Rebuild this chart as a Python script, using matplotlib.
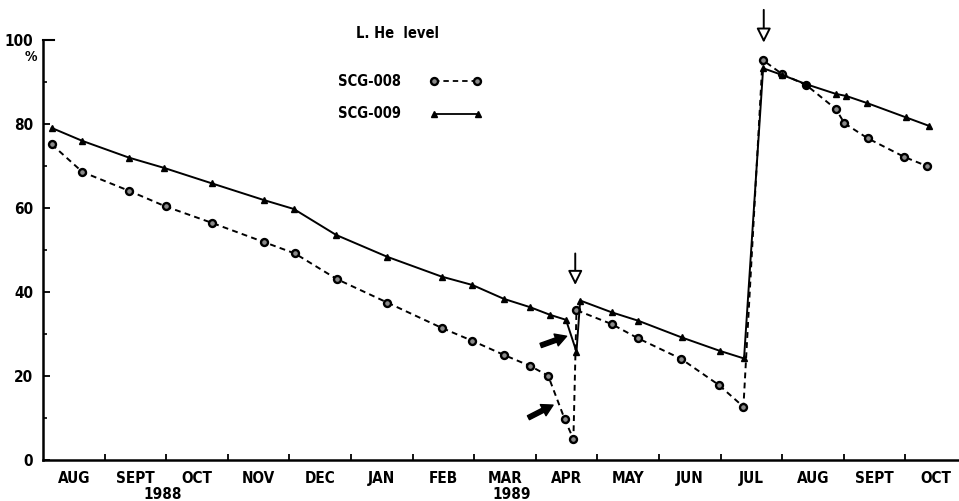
import matplotlib
matplotlib.use("Agg")
import matplotlib.pyplot as plt
from matplotlib import font_manager
from matplotlib.lines import Line2D

# x = months since 1 Aug 1988, y = liquid helium level (%)
months_008 = [0.14, 0.64, 1.40, 1.99, 2.74, 3.59, 4.09, 4.77, 5.59, 6.47,
              6.97, 7.49, 7.91, 8.20, 8.47, 8.61, 8.66, 9.23, 9.66, 10.36,
              10.97, 11.37, 11.68, 12.00, 12.39, 12.87, 13.01, 13.39, 13.98, 14.35]
level_008 = [75.1, 68.5, 64.0, 60.3, 56.4, 51.8, 49.1, 43.0, 37.4, 31.4,
             28.3, 24.9, 22.3, 20.0, 9.6, 4.9, 35.6, 32.3, 28.9, 24.0,
             17.8, 12.6, 95.2, 91.8, 89.2, 83.5, 80.1, 76.5, 72.1, 69.9]

months_009 = [0.14, 0.64, 1.40, 1.96, 2.74, 3.59, 4.07, 4.76, 5.59, 6.47,
              6.97, 7.48, 7.91, 8.23, 8.49, 8.66, 8.72, 9.23, 9.66, 10.37,
              10.99, 11.38, 11.69, 12.00, 12.39, 12.87, 13.04, 13.38, 14.01, 14.38]
level_009 = [79.0, 75.9, 71.9, 69.5, 65.8, 61.8, 59.7, 53.5, 48.3, 43.6,
             41.6, 38.3, 36.3, 34.5, 33.3, 25.7, 37.9, 35.1, 33.1, 29.1,
             25.9, 24.1, 93.2, 91.6, 89.4, 87.1, 86.6, 84.9, 81.5, 79.5]

month_labels = ["AUG", "SEPT", "OCT", "NOV", "DEC", "JAN", "FEB", "MAR",
                "APR", "MAY", "JUN", "JUL", "AUG", "SEPT", "OCT"]
year_labels = ["1988", "1989"]
year_pos = [1.95, 7.61]
y_major = [0, 20, 40, 60, 80, 100]
y_minor = [10, 30, 50, 70, 90]

names = {f.name for f in font_manager.fontManager.ttflist}
FONT = "Liberation Sans Narrow" if "Liberation Sans Narrow" in names else "DejaVu Sans"
plt.rcParams["font.family"] = [FONT, "DejaVu Sans"]
plt.rcParams["font.weight"] = "bold"
plt.rcParams["font.stretch"] = "condensed"

fig = plt.figure(figsize=(9.59, 5.01), dpi=100)
ax = fig.add_axes([43 / 959, 41.3 / 501, 914.8 / 959, 420 / 501])

dash = (0, (3, 2.2))
circle = dict(marker="o", ms=5, mfc="#8a8a8a", mec="black", mew=1.7)
tri = dict(marker="^", ms=4.6, mfc="black", mec="black")
ax.plot(months_008, level_008, color="black", lw=1.4, ls=dash, **circle)
ax.plot(months_009, level_009, color="black", lw=1.4, **tri)

ax.set_xlim(0, 14.85)
ax.set_ylim(0, 100)
for s in ["top", "right"]:
    ax.spines[s].set_visible(False)
for s in ["left", "bottom"]:
    ax.spines[s].set_linewidth(1.8)

ax.set_yticks(y_major)
ax.set_yticklabels([str(v) for v in y_major])
ax.set_yticks(y_minor, minor=True)
ax.tick_params(axis="y", which="major", direction="in", length=5, width=1.3,
               labelsize=11, pad=7)
ax.tick_params(axis="y", which="minor", direction="in", length=3, width=1.2)
ax.axhline(100, xmin=0, xmax=11 / 915, color="black", lw=1.5, clip_on=False)

ax.set_xticks(range(1, 15))
ax.set_xticklabels([])
ax.set_xticks([i + 0.5 for i in range(15)], minor=True)
ax.set_xticklabels(month_labels, minor=True)
ax.tick_params(axis="x", which="major", direction="in", length=4, width=1.3)
ax.tick_params(axis="x", which="minor", length=0, labelsize=11, pad=8)

for lab, x in zip(year_labels, year_pos):
    ax.text(x, -0.084, lab, transform=ax.get_xaxis_transform(),
            ha="center", va="center", fontsize=11, fontweight="bold")

fig.text(31 / 959, 1 - 57 / 501, "%", ha="center", va="center",
         fontsize=10, fontweight="bold")

# legend drawn by hand: label first, sample after
fig.text(397 / 959, 1 - 34 / 501, "L. He  level", ha="center", va="center",
         fontsize=10.5, fontweight="semibold")
fig.text(338 / 959, 1 - 81 / 501, "SCG-008", ha="left", va="center",
         fontsize=10.5, fontweight="bold")
fig.text(338 / 959, 1 - 114 / 501, "SCG-009", ha="left", va="center",
         fontsize=10.5, fontweight="bold")
fig.add_artist(Line2D([434 / 959, 477 / 959], [1 - 81 / 501] * 2, color="black",
                      lw=1.3, ls=dash, transform=fig.transFigure, **circle))
fig.add_artist(Line2D([434 / 959, 478 / 959], [1 - 114 / 501] * 2, color="black",
                      lw=1.3, transform=fig.transFigure, **tri))

# open arrows marking helium refills
open_arrow = dict(arrowstyle="-|>,head_length=0.86,head_width=0.43",
                  mutation_scale=10, fc="white", ec="black", lw=1.4,
                  shrinkA=0, shrinkB=0)
ax.annotate("", xy=(8.64, 41.6), xytext=(8.64, 49.1), arrowprops=open_arrow,
            annotation_clip=False)
ax.annotate("", xy=(11.70, 99.3), xytext=(11.70, 107.1), arrowprops=open_arrow,
            annotation_clip=False)

# solid black pointer arrows
solid_arrow = dict(arrowstyle="simple,head_length=0.8,head_width=0.9,tail_width=0.32",
                   mutation_scale=10, fc="black", ec="black", shrinkA=0, shrinkB=0)
ax.annotate("", xy=(8.50, 29.4), xytext=(8.08, 27.2), arrowprops=solid_arrow)
ax.annotate("", xy=(8.28, 13.0), xytext=(7.88, 10.0), arrowprops=solid_arrow)

fig.savefig("out.png", dpi=100, facecolor="white")
